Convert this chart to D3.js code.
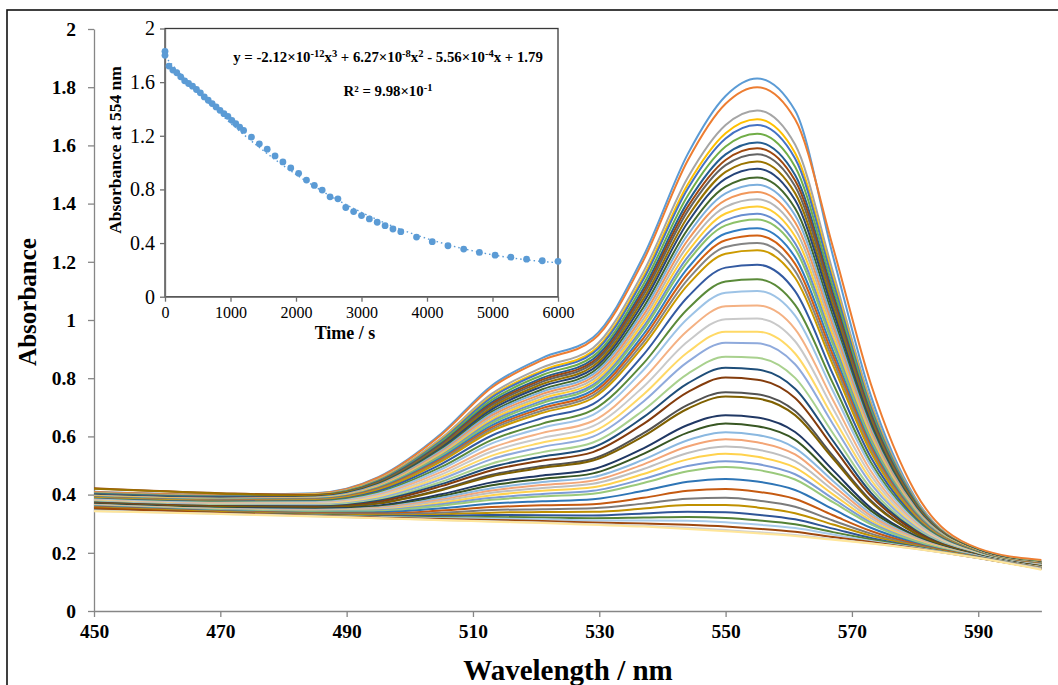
<!DOCTYPE html>
<html>
<head>
<meta charset="utf-8">
<script src="https://cdn.jsdelivr.net/npm/d3@7"></script>
<style>
  body { margin: 0; background: #fff; }
  svg { display: block; }
  text { font-family: "Liberation Serif", "Times New Roman", serif; fill: #000; }
</style>
</head>
<body>
<svg id="chart" width="1058" height="685"></svg>
<script>
// Wavelength grid (nm) on which every spectrum is sampled
const wavelengths = [450, 470, 485, 495, 505, 513, 521, 529, 537, 544, 550, 555, 561, 567, 573, 580, 590, 600];

// Absorbance spectra, one row per scan, in recording order
const spectra = [
  [0.410, 0.400, 0.405, 0.460, 0.610, 0.775, 0.870, 0.940, 1.220, 1.570, 1.770, 1.830, 1.720, 1.220, 0.740, 0.390, 0.210, 0.172],
  [0.409, 0.399, 0.403, 0.458, 0.606, 0.768, 0.862, 0.931, 1.205, 1.548, 1.743, 1.800, 1.690, 1.250, 0.780, 0.410, 0.215, 0.175],
  [0.406, 0.396, 0.401, 0.452, 0.594, 0.747, 0.837, 0.904, 1.166, 1.489, 1.670, 1.720, 1.603, 1.165, 0.718, 0.386, 0.209, 0.168],
  [0.405, 0.395, 0.400, 0.450, 0.589, 0.739, 0.827, 0.893, 1.150, 1.466, 1.642, 1.690, 1.574, 1.145, 0.707, 0.382, 0.209, 0.168],
  [0.404, 0.394, 0.399, 0.448, 0.586, 0.734, 0.821, 0.886, 1.140, 1.451, 1.624, 1.670, 1.555, 1.132, 0.700, 0.380, 0.208, 0.167],
  [0.403, 0.393, 0.398, 0.446, 0.581, 0.726, 0.811, 0.875, 1.123, 1.427, 1.596, 1.640, 1.527, 1.112, 0.689, 0.376, 0.208, 0.167],
  [0.402, 0.392, 0.396, 0.444, 0.576, 0.718, 0.801, 0.865, 1.108, 1.405, 1.569, 1.610, 1.498, 1.092, 0.678, 0.373, 0.207, 0.166],
  [0.422, 0.405, 0.398, 0.442, 0.572, 0.712, 0.795, 0.857, 1.097, 1.389, 1.550, 1.590, 1.479, 1.078, 0.671, 0.370, 0.207, 0.166],
  [0.400, 0.390, 0.395, 0.441, 0.569, 0.707, 0.788, 0.850, 1.086, 1.374, 1.532, 1.570, 1.460, 1.065, 0.664, 0.368, 0.207, 0.166],
  [0.420, 0.404, 0.397, 0.439, 0.565, 0.700, 0.780, 0.841, 1.073, 1.354, 1.509, 1.545, 1.436, 1.048, 0.655, 0.365, 0.206, 0.165],
  [0.399, 0.389, 0.393, 0.437, 0.561, 0.693, 0.772, 0.832, 1.060, 1.335, 1.486, 1.520, 1.412, 1.032, 0.646, 0.361, 0.206, 0.165],
  [0.397, 0.387, 0.391, 0.435, 0.556, 0.685, 0.762, 0.822, 1.044, 1.312, 1.458, 1.490, 1.384, 1.012, 0.635, 0.358, 0.205, 0.165],
  [0.396, 0.386, 0.390, 0.433, 0.552, 0.679, 0.754, 0.813, 1.031, 1.293, 1.435, 1.465, 1.360, 0.995, 0.626, 0.355, 0.205, 0.164],
  [0.396, 0.386, 0.389, 0.431, 0.547, 0.672, 0.746, 0.804, 1.017, 1.274, 1.412, 1.440, 1.336, 0.978, 0.617, 0.352, 0.204, 0.164],
  [0.395, 0.385, 0.388, 0.429, 0.543, 0.665, 0.738, 0.795, 1.004, 1.255, 1.389, 1.415, 1.312, 0.962, 0.608, 0.349, 0.204, 0.164],
  [0.394, 0.384, 0.387, 0.427, 0.539, 0.658, 0.730, 0.786, 0.991, 1.235, 1.366, 1.390, 1.288, 0.945, 0.599, 0.345, 0.204, 0.163],
  [0.393, 0.383, 0.386, 0.425, 0.535, 0.652, 0.722, 0.777, 0.977, 1.216, 1.343, 1.365, 1.264, 0.928, 0.590, 0.342, 0.203, 0.163],
  [0.392, 0.382, 0.385, 0.424, 0.532, 0.646, 0.715, 0.770, 0.967, 1.201, 1.325, 1.345, 1.245, 0.915, 0.583, 0.340, 0.203, 0.163],
  [0.391, 0.381, 0.384, 0.422, 0.527, 0.638, 0.705, 0.759, 0.951, 1.178, 1.297, 1.315, 1.216, 0.895, 0.572, 0.336, 0.202, 0.162],
  [0.390, 0.380, 0.383, 0.420, 0.522, 0.631, 0.697, 0.750, 0.938, 1.158, 1.274, 1.290, 1.193, 0.878, 0.563, 0.333, 0.202, 0.162],
  [0.389, 0.379, 0.382, 0.418, 0.518, 0.625, 0.689, 0.741, 0.924, 1.139, 1.251, 1.265, 1.169, 0.862, 0.554, 0.330, 0.201, 0.161],
  [0.388, 0.378, 0.381, 0.416, 0.514, 0.618, 0.681, 0.732, 0.911, 1.120, 1.228, 1.240, 1.145, 0.845, 0.545, 0.327, 0.201, 0.161],
  [0.386, 0.376, 0.378, 0.412, 0.505, 0.603, 0.663, 0.711, 0.881, 1.079, 1.180, 1.190, 1.099, 0.813, 0.528, 0.321, 0.200, 0.160],
  [0.384, 0.374, 0.376, 0.407, 0.495, 0.588, 0.644, 0.691, 0.851, 1.038, 1.132, 1.140, 1.052, 0.782, 0.511, 0.315, 0.199, 0.159],
  [0.383, 0.372, 0.374, 0.403, 0.487, 0.576, 0.630, 0.674, 0.828, 1.005, 1.094, 1.100, 1.015, 0.756, 0.498, 0.310, 0.198, 0.159],
  [0.381, 0.370, 0.371, 0.399, 0.478, 0.561, 0.612, 0.653, 0.798, 0.964, 1.047, 1.050, 0.969, 0.725, 0.481, 0.304, 0.197, 0.158],
  [0.379, 0.368, 0.369, 0.395, 0.469, 0.548, 0.595, 0.635, 0.771, 0.926, 1.003, 1.005, 0.927, 0.696, 0.466, 0.299, 0.196, 0.157],
  [0.378, 0.366, 0.367, 0.391, 0.461, 0.534, 0.579, 0.616, 0.744, 0.889, 0.960, 0.960, 0.885, 0.667, 0.451, 0.294, 0.196, 0.156],
  [0.376, 0.365, 0.365, 0.387, 0.453, 0.522, 0.564, 0.599, 0.720, 0.856, 0.922, 0.920, 0.848, 0.642, 0.437, 0.289, 0.195, 0.156],
  [0.375, 0.363, 0.362, 0.383, 0.444, 0.507, 0.546, 0.579, 0.690, 0.815, 0.874, 0.870, 0.801, 0.611, 0.421, 0.283, 0.194, 0.155],
  [0.373, 0.361, 0.360, 0.379, 0.436, 0.495, 0.531, 0.562, 0.666, 0.782, 0.836, 0.830, 0.764, 0.585, 0.407, 0.278, 0.193, 0.154],
  [0.372, 0.360, 0.358, 0.375, 0.429, 0.484, 0.517, 0.546, 0.643, 0.752, 0.802, 0.795, 0.732, 0.564, 0.396, 0.274, 0.192, 0.154],
  [0.370, 0.357, 0.355, 0.370, 0.418, 0.468, 0.498, 0.523, 0.611, 0.708, 0.752, 0.745, 0.687, 0.533, 0.380, 0.268, 0.192, 0.153],
  [0.369, 0.357, 0.355, 0.369, 0.415, 0.463, 0.492, 0.517, 0.601, 0.695, 0.737, 0.730, 0.673, 0.524, 0.375, 0.267, 0.191, 0.153],
  [0.367, 0.354, 0.351, 0.362, 0.401, 0.442, 0.466, 0.487, 0.559, 0.639, 0.673, 0.665, 0.615, 0.484, 0.354, 0.259, 0.190, 0.152],
  [0.366, 0.353, 0.349, 0.359, 0.395, 0.432, 0.454, 0.473, 0.540, 0.613, 0.644, 0.635, 0.588, 0.465, 0.345, 0.256, 0.190, 0.151],
  [0.365, 0.351, 0.348, 0.356, 0.389, 0.422, 0.443, 0.460, 0.520, 0.587, 0.614, 0.605, 0.560, 0.447, 0.335, 0.253, 0.189, 0.151],
  [0.364, 0.350, 0.346, 0.354, 0.383, 0.414, 0.433, 0.448, 0.504, 0.565, 0.590, 0.580, 0.538, 0.431, 0.327, 0.250, 0.188, 0.150],
  [0.363, 0.349, 0.345, 0.351, 0.378, 0.406, 0.423, 0.437, 0.488, 0.543, 0.565, 0.555, 0.515, 0.416, 0.319, 0.247, 0.188, 0.150],
  [0.362, 0.348, 0.343, 0.348, 0.372, 0.398, 0.413, 0.425, 0.471, 0.521, 0.540, 0.530, 0.493, 0.401, 0.311, 0.244, 0.187, 0.150],
  [0.361, 0.347, 0.342, 0.346, 0.367, 0.389, 0.402, 0.413, 0.454, 0.498, 0.515, 0.505, 0.470, 0.386, 0.304, 0.241, 0.187, 0.149],
  [0.360, 0.346, 0.341, 0.343, 0.362, 0.382, 0.394, 0.403, 0.440, 0.480, 0.495, 0.485, 0.452, 0.374, 0.298, 0.239, 0.186, 0.149],
  [0.359, 0.344, 0.338, 0.339, 0.353, 0.369, 0.377, 0.384, 0.413, 0.444, 0.454, 0.445, 0.416, 0.350, 0.286, 0.234, 0.186, 0.148],
  [0.357, 0.342, 0.336, 0.335, 0.345, 0.357, 0.363, 0.367, 0.389, 0.413, 0.419, 0.410, 0.385, 0.329, 0.275, 0.230, 0.185, 0.148],
  [0.356, 0.341, 0.334, 0.332, 0.338, 0.347, 0.350, 0.353, 0.369, 0.386, 0.389, 0.380, 0.358, 0.311, 0.266, 0.227, 0.184, 0.147],
  [0.355, 0.340, 0.332, 0.329, 0.332, 0.338, 0.340, 0.341, 0.352, 0.364, 0.364, 0.356, 0.336, 0.297, 0.259, 0.224, 0.184, 0.147],
  [0.350, 0.337, 0.330, 0.326, 0.327, 0.330, 0.329, 0.328, 0.335, 0.341, 0.339, 0.331, 0.315, 0.283, 0.251, 0.221, 0.183, 0.146],
  [0.348, 0.336, 0.329, 0.324, 0.322, 0.323, 0.321, 0.319, 0.321, 0.323, 0.320, 0.312, 0.298, 0.271, 0.246, 0.219, 0.183, 0.146],
  [0.346, 0.335, 0.328, 0.323, 0.319, 0.318, 0.315, 0.311, 0.311, 0.310, 0.305, 0.297, 0.285, 0.263, 0.241, 0.218, 0.183, 0.146],
  [0.353, 0.337, 0.327, 0.321, 0.316, 0.313, 0.309, 0.304, 0.301, 0.296, 0.290, 0.283, 0.272, 0.254, 0.237, 0.216, 0.182, 0.145],
  [0.344, 0.334, 0.326, 0.319, 0.313, 0.308, 0.304, 0.298, 0.293, 0.286, 0.278, 0.271, 0.261, 0.247, 0.233, 0.214, 0.182, 0.145],
  [0.343, 0.333, 0.325, 0.319, 0.312, 0.307, 0.302, 0.296, 0.290, 0.282, 0.274, 0.267, 0.258, 0.245, 0.232, 0.214, 0.182, 0.142]
];

// Line colour of each scan
const seriesColors = [
  "#5B9BD5", "#ED7D31", "#A5A5A5", "#FFC000", "#4472C4", "#70AD47",
  "#255E91", "#9E480E", "#636363", "#997300", "#264478", "#43682B",
  "#7CAFDD", "#F1975A", "#B7B7B7", "#FFCD33", "#698ED0", "#8CC168",
  "#327DC2", "#D26012", "#848484", "#CC9A00", "#335AA1", "#5A8A39",
  "#9DC3E6", "#F4B183", "#C9C9C9", "#FFD966", "#8FAADC", "#A9D18E",
  "#1F4E79", "#843C0C", "#525252", "#7F6000", "#203864", "#385723",
  "#8AB8E0", "#F3A576", "#BFBFBF", "#FFD24D", "#7C9CD6", "#9AC97B",
  "#2E75B6", "#C55A11", "#7B7B7B", "#BF9000", "#2F5597", "#548235",
  "#A8CBEA", "#9E480E", "#D0D0D0", "#FFE699"
];

// Kinetic trace: time of each scan (s) and its absorbance at 554 nm
const times = [
  0, 0, 60, 120, 180, 240, 300, 360, 420, 480, 540, 600, 660, 720, 780, 840, 900, 960, 1020, 1080, 1140, 1200,
  1320, 1440, 1560, 1680, 1800, 1920, 2040, 2160, 2280, 2400, 2520, 2640, 2760, 2880, 3000, 3120, 3240, 3360, 3480, 3600,
  3840, 4080, 4320, 4560, 4800, 5040, 5280, 5520, 5760, 6000
];
const absorbance554 = [
  1.83, 1.80, 1.72, 1.69, 1.67, 1.64, 1.61, 1.59, 1.57, 1.545, 1.52, 1.49, 1.465, 1.44, 1.415, 1.39, 1.365, 1.345, 1.315, 1.29, 1.265, 1.24,
  1.19, 1.14, 1.10, 1.05, 1.005, 0.96, 0.92, 0.87, 0.83, 0.795, 0.745, 0.73, 0.665, 0.635, 0.605, 0.58, 0.555, 0.53, 0.505, 0.485,
  0.445, 0.41, 0.38, 0.355, 0.33, 0.31, 0.295, 0.28, 0.268, 0.264
];

// Cubic trend-line coefficients printed on the inset (a3, a2, a1, a0)
const fitCoefficients = [-2.12e-12, 6.27e-8, -5.56e-4, 1.79];

// Axis ticks
const mainYTicks = [0, 0.2, 0.4, 0.6, 0.8, 1, 1.2, 1.4, 1.6, 1.8, 2];
const mainXTicks = [450, 470, 490, 510, 530, 550, 570, 590];
const insetYTicks = [0, 0.4, 0.8, 1.2, 1.6, 2];
const insetXTicks = [0, 1000, 2000, 3000, 4000, 5000, 6000];

const svg = d3.select("#chart");
const axisGray = "#868686";

// Outer frame
svg.append("rect")
  .attr("x", 7).attr("y", 10).attr("width", 1070).attr("height", 700)
  .attr("fill", "#fff").attr("stroke", "#111").attr("stroke-width", 1.6);

// ---------- main spectra ----------
const x = d3.scaleLinear().domain([450, 600]).range([94, 1041.4]);
const y = d3.scaleLinear().domain([0, 2]).range([611, 29]);

const numFmt = d => String(+d.toFixed(1));

const gy = svg.append("g").attr("transform", "translate(94,0)")
  .call(d3.axisLeft(y).tickValues(mainYTicks).tickFormat(numFmt).tickSizeInner(6).tickSizeOuter(0).tickPadding(12));
const gx = svg.append("g").attr("transform", "translate(0,611)")
  .call(d3.axisBottom(x).tickValues(mainXTicks).tickFormat(d3.format("d")).tickSizeInner(6).tickSizeOuter(0).tickPadding(7));
[gy, gx].forEach(g => {
  g.selectAll("path, line").attr("stroke", axisGray).attr("stroke-width", 1.3);
  g.selectAll("text").attr("font-family", "Liberation Serif").attr("font-weight", "bold")
    .attr("font-size", 19.5).attr("fill", "#000");
});

const line = d3.line()
  .x((d, i) => x(wavelengths[i]))
  .y(d => y(d))
  .curve(d3.curveMonotoneX);

svg.append("g").selectAll("path").data(spectra).join("path")
  .attr("d", line)
  .attr("fill", "none")
  .attr("stroke", (d, i) => seriesColors[i])
  .attr("stroke-width", 2)
  .attr("stroke-linejoin", "round");

svg.append("text")
  .attr("transform", "translate(36,302) rotate(-90)")
  .attr("text-anchor", "middle")
  .attr("font-weight", "bold").attr("font-size", 25)
  .text("Absorbance");

svg.append("text")
  .attr("x", 568).attr("y", 680)
  .attr("text-anchor", "middle")
  .attr("font-weight", "bold").attr("font-size", 29)
  .text("Wavelength / nm");

// ---------- inset kinetic trace ----------
const ix = d3.scaleLinear().domain([0, 6000]).range([165, 558]);
const iy = d3.scaleLinear().domain([0, 2]).range([296.7, 28.5]);

svg.append("rect")
  .attr("x", ix(0)).attr("y", iy(2)).attr("width", ix(6000) - ix(0)).attr("height", iy(0) - iy(2))
  .attr("fill", "none").attr("stroke", "#3a3a3a").attr("stroke-width", 1.3);

const igy = svg.append("g").attr("transform", `translate(${ix(0)},0)`)
  .call(d3.axisLeft(iy).tickValues(insetYTicks).tickFormat(numFmt).tickSizeInner(5).tickSizeOuter(0).tickPadding(5));
const igx = svg.append("g").attr("transform", `translate(0,${iy(0)})`)
  .call(d3.axisBottom(ix).tickValues(insetXTicks).tickFormat(d3.format("d")).tickSizeInner(5).tickSizeOuter(0).tickPadding(5));
[igy, igx].forEach(g => {
  g.selectAll("path, line").attr("stroke", "#6e6e6e").attr("stroke-width", 1.3);
  g.selectAll("text").attr("font-family", "Liberation Serif").attr("fill", "#000");
});
igy.selectAll("text").attr("font-size", 20);
igx.selectAll("text").attr("font-size", 16);

// Trend line from the printed polynomial
const poly = t => ((fitCoefficients[0] * t + fitCoefficients[1]) * t + fitCoefficients[2]) * t + fitCoefficients[3];
svg.append("path")
  .datum(d3.range(0, 6001, 50))
  .attr("d", d3.line().x(t => ix(t)).y(t => iy(poly(t))))
  .attr("fill", "none").attr("stroke", "#5B9BD5").attr("stroke-width", 1.4)
  .attr("stroke-dasharray", "1.5,3");

svg.append("g").selectAll("circle").data(times).join("circle")
  .attr("cx", d => ix(d))
  .attr("cy", (d, i) => iy(absorbance554[i]))
  .attr("r", 3.4)
  .attr("fill", "#5B9BD5");

svg.append("text")
  .attr("transform", "translate(121,150) rotate(-90)")
  .attr("text-anchor", "middle")
  .attr("font-weight", "bold").attr("font-size", 17.5)
  .text("Absorbance  at 554 nm");

svg.append("text")
  .attr("x", 345).attr("y", 339)
  .attr("text-anchor", "middle")
  .attr("font-weight", "bold").attr("font-size", 18)
  .text("Time  /  s");

// Equation and R² annotations
function addFormula(xPos, yPos, parts) {
  const t = svg.append("text").attr("x", xPos).attr("y", yPos)
    .attr("text-anchor", "middle").attr("font-weight", "bold").attr("font-size", 14.8);
  let raised = false;
  parts.forEach(([s, sup]) => {
    const ts = t.append("tspan").text(s);
    if (sup && !raised) { ts.attr("dy", -5).attr("font-size", 10.5); raised = true; }
    else if (sup) { ts.attr("font-size", 10.5); }
    else if (raised) { ts.attr("dy", 5); raised = false; }
  });
}
addFormula(388, 62, [
  ["y = -2.12×10"], ["-12", true], ["x"], ["3", true], [" + 6.27×10"], ["-8", true], ["x"], ["2", true],
  [" - 5.56×10"], ["-4", true], ["x + 1.79"]
]);
addFormula(388, 96, [["R² = 9.98×10"], ["-1", true]]);
</script>
</body>
</html>
